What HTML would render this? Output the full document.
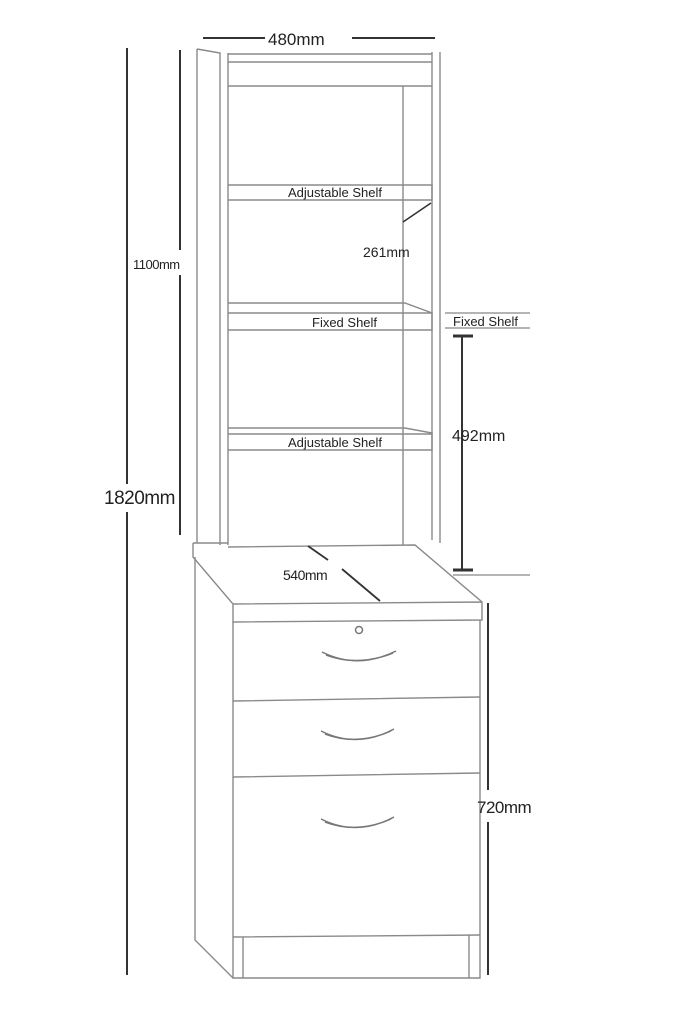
<!DOCTYPE html>
<html><head><style>
html,body{margin:0;padding:0;background:#fff;}
svg{display:block;}
text{font-family:"Liberation Sans",sans-serif;fill:#222;}
</style></head><body>
<svg width="683" height="1024" viewBox="0 0 683 1024" xmlns="http://www.w3.org/2000/svg">
<g fill="none" stroke="#8a8a8a" stroke-width="1.4">
<!-- hutch left panel -->
<path d="M197,49 L220,53 L220,545 M197,49 L197,543"/>
<path d="M228,53 L228,545"/>
<!-- hutch right panel -->
<path d="M432,52 L432,540 M440,52 L440,543"/>
<!-- top rails -->
<path d="M228,54 L432,54 M228,62 L432,62 M228,86 L432,86"/>
<!-- back inner vertical -->
<path d="M403,86 L403,545"/>
<!-- adjustable shelf 1 -->
<path d="M228,185 L432,185 L432,200 L228,200"/>
<!-- fixed shelf -->
<path d="M228,303 L405,303 L432,313 L432,330 L228,330 M228,313 L432,313"/>
<!-- adjustable shelf 2 -->
<path d="M228,428 L405,428 L432,433 L432,450 L228,450 M228,434 L432,434"/>
<!-- desk top -->
<path d="M193,543 L228,543 M228,547 L415,545 L482,602 L482,620 L233,622 L233,604 L193,557 L193,543 M233,604 L482,602"/>
<!-- pedestal left side -->
<path d="M195,557 L195,940 L233,978"/>
<!-- front -->
<path d="M233,622 L233,978 L480,978 L480,620"/>
<path d="M233,701 L480,697 M233,777 L480,773 M233,937 L480,935"/>
<path d="M243,937 L243,978 M469,935 L469,978"/>
</g>
<!-- handles -->
<g fill="none" stroke="#777" stroke-width="1.5">
<path d="M322,652 Q358,670 396,651 M326,655 Q358,667 393,653"/>
<path d="M321,731 Q357,749 394,729 M325,734 Q357,746 391,731"/>
<path d="M321,819 Q357,837 394,817 M325,822 Q357,834 391,819"/>
<circle cx="359" cy="630" r="3.5"/>
</g>
<!-- dimension lines -->
<g stroke="#333" stroke-width="2" fill="none">
<path d="M127,48 L127,484 M127,512 L127,975"/>
<path d="M180,50 L180,250 M180,275 L180,535"/>
<path d="M203,38 L265,38 M352,38 L435,38"/>
<path d="M462,336 L462,571"/>
<path d="M453,336 L473,336 M453,570 L473,570" stroke-width="3"/>
<path d="M488,603 L488,790 M488,822 L488,975"/>
<path d="M403,222 L431,203" stroke-width="1.6"/>
<path d="M308,546 L328,560 M342,569 L380,601" stroke-width="1.8"/>
</g>
<g stroke="#888" stroke-width="1.2" fill="none">
<path d="M445,313 L530,313 M445,328 L530,328 M453,575 L530,575"/>
</g>
<text x="268" y="45" font-size="17">480mm</text>
<text x="133" y="269" font-size="13" letter-spacing="-0.5">1100mm</text>
<text x="104" y="504" font-size="19" letter-spacing="-0.5">1820mm</text>
<text x="288" y="197" font-size="13">Adjustable Shelf</text>
<text x="363" y="257" font-size="14">261mm</text>
<text x="312" y="327" font-size="13">Fixed Shelf</text>
<text x="453" y="326" font-size="13">Fixed Shelf</text>
<text x="288" y="447" font-size="13">Adjustable Shelf</text>
<text x="452" y="441" font-size="16">492mm</text>
<text x="283" y="580" font-size="14" letter-spacing="-0.5">540mm</text>
<text x="477" y="813" font-size="17" letter-spacing="-0.5">720mm</text>
</svg>
</body></html>
